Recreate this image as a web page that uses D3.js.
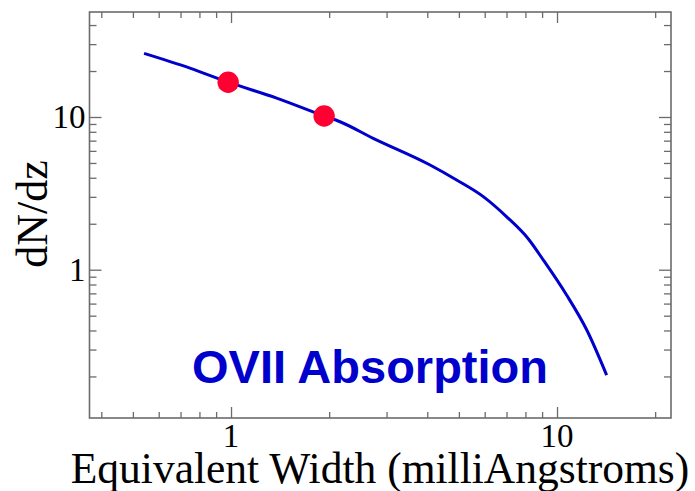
<!DOCTYPE html>
<html>
<head>
<meta charset="utf-8">
<script src="https://cdn.jsdelivr.net/npm/d3@7"></script>
<style>
  html, body { margin: 0; padding: 0; background: #fff; }
  svg { display: block; }
</style>
</head>
<body>
<div id="chart"></div>
<script>
// equivalent width (mA) and dN/dz along the model curve
var curveEW  = [0.541, 0.748, 0.98, 1.38, 1.93, 2.16, 2.73, 4.08, 4.92, 5.94, 7.01, 8.17, 9.08, 10.7, 12.34, 14.2];
var curveDNdz = [26.1, 20.9, 16.9, 13.3, 10.15, 9.31, 7.25, 4.85, 3.87, 3.01, 2.22, 1.59, 1.157, 0.683, 0.403, 0.204];

// the two red points
var pointEW = [0.98, 1.93];
var pointDNdz = [16.9, 10.15];

var xMajor = [1, 10];
var xMinor = [0.4, 0.5, 0.6, 0.7, 0.8, 0.9, 2, 3, 4, 5, 6, 7, 8, 9, 20];
var yMajor = [1, 10];
var yMinor = [0.2, 0.3, 0.4, 0.5, 0.6, 0.7, 0.8, 0.9, 2, 3, 4, 5, 6, 7, 8, 9, 20, 30, 40];

var xTitle = "Equivalent Width (milliAngstroms)";
var yTitle = "dN/dz";
var label = "OVII Absorption";

var W = 695, H = 491;
var margin = {top: 12, left: 89.5},
    width = 581.5,
    height = 406;

var svg = d3.select("#chart").append("svg")
    .attr("width", W)
    .attr("height", H);

var g = svg.append("g")
    .attr("transform", "translate(" + margin.left + "," + margin.top + ")");

var x = d3.scaleLog().domain([0.368, 22.37]).range([0, width]);
var y = d3.scaleLog().domain([0.1069, 48.7]).range([height, 0]);

var axisColor = "#6b6b6b";

function styleAxis(sel) {
    sel.select(".domain").remove();
    sel.selectAll("line").attr("stroke", axisColor).attr("stroke-width", 1.3);
    sel.selectAll("text").remove();
}

// inward ticks on all four sides
g.append("g").attr("transform", "translate(0," + height + ")")
    .call(d3.axisBottom(x).tickValues(xMajor).tickSize(-11)).call(styleAxis);
g.append("g").attr("transform", "translate(0," + height + ")")
    .call(d3.axisBottom(x).tickValues(xMinor).tickSize(-6)).call(styleAxis);
g.append("g")
    .call(d3.axisTop(x).tickValues(xMajor).tickSize(-11)).call(styleAxis);
g.append("g")
    .call(d3.axisTop(x).tickValues(xMinor).tickSize(-6)).call(styleAxis);
g.append("g")
    .call(d3.axisLeft(y).tickValues(yMajor).tickSize(-12)).call(styleAxis);
g.append("g")
    .call(d3.axisLeft(y).tickValues(yMinor).tickSize(-7)).call(styleAxis);
g.append("g").attr("transform", "translate(" + width + ",0)")
    .call(d3.axisRight(y).tickValues(yMajor).tickSize(-12)).call(styleAxis);
g.append("g").attr("transform", "translate(" + width + ",0)")
    .call(d3.axisRight(y).tickValues(yMinor).tickSize(-7)).call(styleAxis);

// frame
g.append("rect")
    .attr("width", width).attr("height", height)
    .attr("fill", "none").attr("stroke", axisColor).attr("stroke-width", 1.6);

// tick labels
g.selectAll(".xlab").data(xMajor).enter().append("text")
    .attr("x", function(d) { return x(d); })
    .attr("y", height + 29)
    .attr("text-anchor", "middle")
    .style("font-family", "'Liberation Serif', 'Times New Roman', serif")
    .style("font-size", "33px")
    .text(function(d) { return d; });

g.selectAll(".ylab").data(yMajor).enter().append("text")
    .attr("x", -4)
    .attr("y", function(d) { return y(d) + 11.5; })
    .attr("text-anchor", "end")
    .style("font-family", "'Liberation Serif', 'Times New Roman', serif")
    .style("font-size", "33px")
    .text(function(d) { return d; });

// axis titles
svg.append("text")
    .attr("x", 380).attr("y", 483)
    .attr("text-anchor", "middle")
    .style("font-family", "'Liberation Serif', 'Times New Roman', serif")
    .style("font-size", "43.5px")
    .text(xTitle);

svg.append("text")
    .attr("transform", "translate(47,214) rotate(-90)")
    .attr("text-anchor", "middle")
    .style("font-family", "'Liberation Serif', 'Times New Roman', serif")
    .style("font-size", "44px")
    .text(yTitle);

// model curve
var pts = curveEW.map(function(d, i) { return [d, curveDNdz[i]]; });
g.append("path")
    .datum(pts)
    .attr("fill", "none")
    .attr("stroke", "#0000cc")
    .attr("stroke-width", 3)
    .attr("d", d3.line()
        .curve(d3.curveMonotoneX)
        .x(function(d) { return x(d[0]); })
        .y(function(d) { return y(d[1]); }));

// points
g.selectAll(".pt").data(pointEW).enter().append("circle")
    .attr("cx", function(d) { return x(d); })
    .attr("cy", function(d, i) { return y(pointDNdz[i]); })
    .attr("r", 10.7)
    .attr("fill", "#ff0033");

svg.append("text")
    .attr("x", 192).attr("y", 383)
    .style("font-family", "'Liberation Sans', Arial, sans-serif")
    .style("font-weight", "bold")
    .style("font-size", "47px")
    .attr("fill", "#0000cc")
    .text(label);
</script>
</body>
</html>
